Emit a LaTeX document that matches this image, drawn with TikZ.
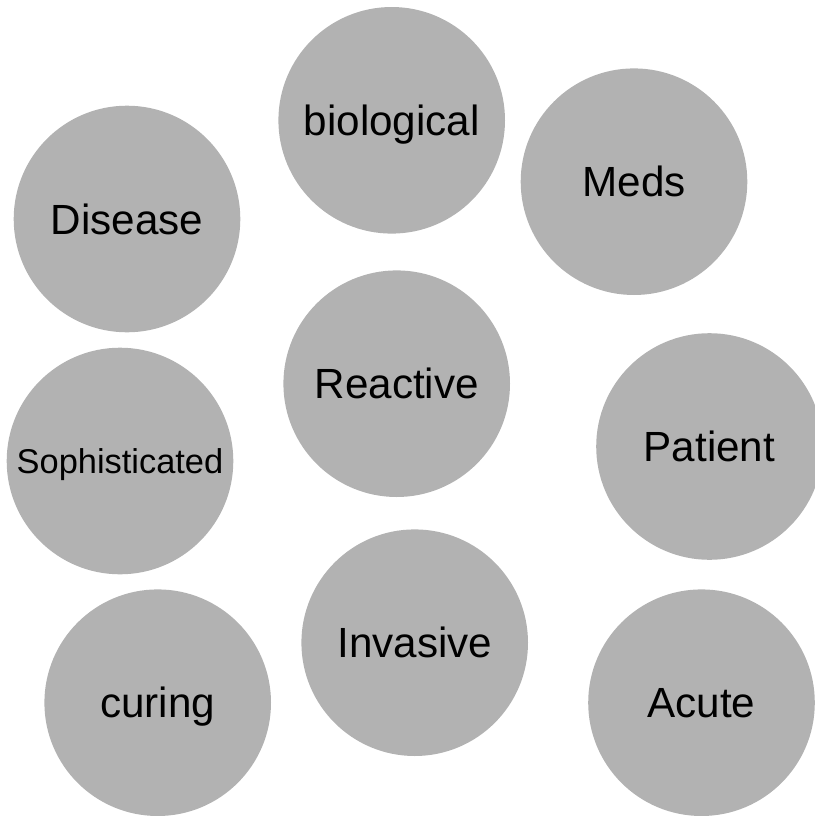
\documentclass[tikz,border=0pt]{standalone}
\usepackage{fontspec}
\setmainfont{Liberation Sans}
\definecolor{bubble}{HTML}{B2B2B2}
\begin{document}
\begin{tikzpicture}[x=1pt,y=-1pt,
  bub/.style={circle, fill=bubble, draw=none, inner sep=0pt, minimum size=226.6pt,
    font=\fontsize{42.2}{48}\selectfont, text height=30.2pt, text depth=0pt, text=black},
  bubsmall/.style={bub, font=\fontsize{34.4}{40}\selectfont, text height=24.6pt}]
\useasboundingbox (0,0) rectangle (814,816);
\node[bub] (bio) at (391.7,120.3) {biological};
\node[bub] (meds) at (634,181.7) {Meds};
\node[bub] (dis) at (127,219) {Disease};
\node[bub] (rea) at (396.7,383.7) {Reactive};
\node[bubsmall] (soph) at (120,461) {Sophisticated};
\node[bub] (pat) at (709.5,446.5) {Patient};
\node[bub] (inv) at (414.7,642.7) {Invasive};
\node[bub] (cur) at (157.7,702.7) {curing};
\node[bub] (acu) at (701.5,702.7) {Acute};
\end{tikzpicture}
\end{document}
